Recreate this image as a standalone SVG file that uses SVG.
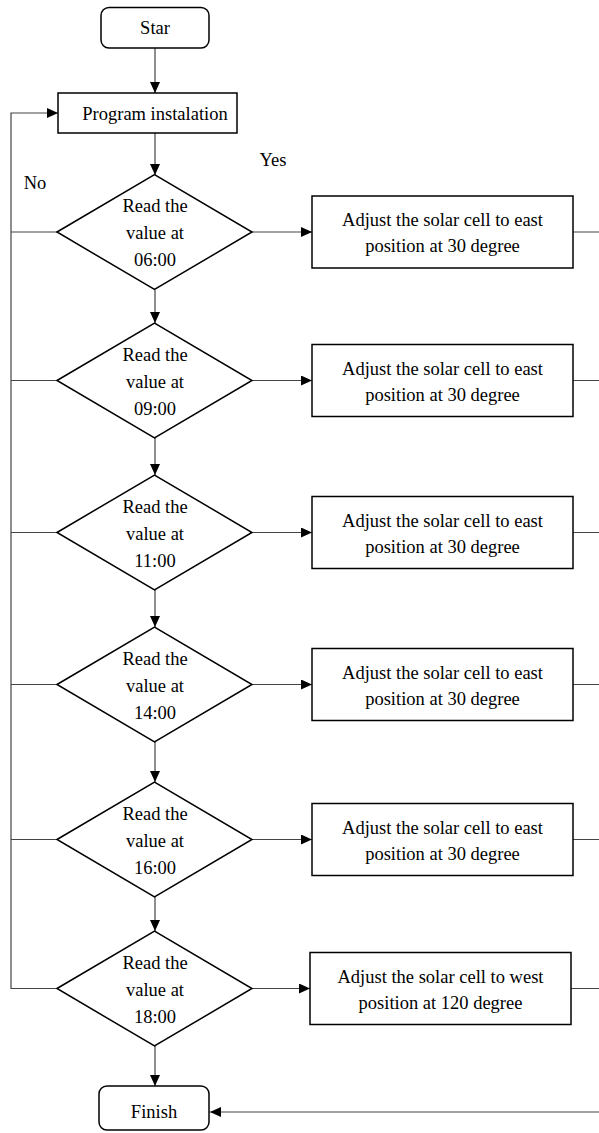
<svg xmlns="http://www.w3.org/2000/svg" width="599" height="1133" viewBox="0 0 599 1133">
<style>
text{font-family:"Liberation Serif","Times New Roman",serif;font-size:18.5px;fill:#000;text-anchor:middle}
.s{fill:#fff;stroke:#000;stroke-width:1.5}
.c{fill:none;stroke:#444;stroke-width:1.2}
.a{marker-end:url(#ah)}
</style>
<defs>
<marker id="ah" markerWidth="11" markerHeight="10" refX="11" refY="5" orient="auto" markerUnits="userSpaceOnUse"><path d="M0,0 L11,5 L0,10 z" fill="#000"/></marker>
</defs>
<g id="connectors">
<path class="c a" d="M155,48 V93"/>
<path class="c a" d="M155,133 V175"/>
<path class="c a" d="M155,290 V323"/>
<path class="c a" d="M155,438 V475"/>
<path class="c a" d="M155,590 V627"/>
<path class="c a" d="M155,742 V782"/>
<path class="c a" d="M155,897 V931"/>
<path class="c a" d="M155,1046 V1086"/>
<path class="c a" d="M57,988.5 H11 V113 H58"/>
<path class="c" d="M11,232 H57 M11,380.5 H57 M11,532.5 H57 M11,684.5 H57 M11,839.5 H57"/>
<path class="c a" d="M252,232 H312"/>
<path class="c a" d="M252,380.5 H312"/>
<path class="c a" d="M252,532.5 H312"/>
<path class="c a" d="M252,684.5 H312"/>
<path class="c a" d="M252,839.5 H312"/>
<path class="c a" d="M252,988.5 H310"/>
<path class="c" d="M573,232 H599 M573,380.5 H599 M573,532.5 H599 M573,684.5 H599 M573,839.5 H599 M571,988.5 H599"/>
<path class="c a" d="M599,1112 H210"/>
<text x="273" y="166">Yes</text>
<text x="35" y="189">No</text>
</g>
<g id="start"><rect class="s" x="101" y="7.5" width="108" height="40.5" rx="8"/><text x="155" y="34">Star</text></g>
<g id="install"><rect class="s" x="58" y="93" width="179" height="40"/><text x="155" y="120">Program instalation</text></g>
<g id="d1"><polygon class="s" points="57,232 154.5,174.5 252,232 154.5,289.5"/><text x="155" y="212">Read the</text><text x="155" y="239">value at</text><text x="155" y="266">06:00</text></g>
<g id="b1"><rect class="s" x="312" y="196" width="261" height="72"/><text x="442.5" y="226">Adjust the solar cell to east</text><text x="442.5" y="252">position at 30 degree</text></g>
<g id="d2"><polygon class="s" points="57,380.5 154.5,323 252,380.5 154.5,438"/><text x="155" y="360.5">Read the</text><text x="155" y="387.5">value at</text><text x="155" y="414.5">09:00</text></g>
<g id="b2"><rect class="s" x="312" y="344.5" width="261" height="72"/><text x="442.5" y="374.5">Adjust the solar cell to east</text><text x="442.5" y="400.5">position at 30 degree</text></g>
<g id="d3"><polygon class="s" points="57,532.5 154.5,475 252,532.5 154.5,590"/><text x="155" y="512.5">Read the</text><text x="155" y="539.5">value at</text><text x="155" y="566.5">11:00</text></g>
<g id="b3"><rect class="s" x="312" y="496.5" width="261" height="72"/><text x="442.5" y="526.5">Adjust the solar cell to east</text><text x="442.5" y="552.5">position at 30 degree</text></g>
<g id="d4"><polygon class="s" points="57,684.5 154.5,627 252,684.5 154.5,742"/><text x="155" y="664.5">Read the</text><text x="155" y="691.5">value at</text><text x="155" y="718.5">14:00</text></g>
<g id="b4"><rect class="s" x="312" y="648.5" width="261" height="72"/><text x="442.5" y="678.5">Adjust the solar cell to east</text><text x="442.5" y="704.5">position at 30 degree</text></g>
<g id="d5"><polygon class="s" points="57,839.5 154.5,782 252,839.5 154.5,897"/><text x="155" y="819.5">Read the</text><text x="155" y="846.5">value at</text><text x="155" y="873.5">16:00</text></g>
<g id="b5"><rect class="s" x="312" y="803.5" width="261" height="72"/><text x="442.5" y="833.5">Adjust the solar cell to east</text><text x="442.5" y="859.5">position at 30 degree</text></g>
<g id="d6"><polygon class="s" points="57,988.5 154.5,931 252,988.5 154.5,1046"/><text x="155" y="968.5">Read the</text><text x="155" y="995.5">value at</text><text x="155" y="1022.5">18:00</text></g>
<g id="b6"><rect class="s" x="310" y="952.5" width="261" height="72"/><text x="440.5" y="982.5">Adjust the solar cell to west</text><text x="440.5" y="1008.5">position at 120 degree</text></g>
<g id="finish"><rect class="s" x="99" y="1086" width="110" height="44" rx="8"/><text x="154" y="1118">Finish</text></g>
</svg>
